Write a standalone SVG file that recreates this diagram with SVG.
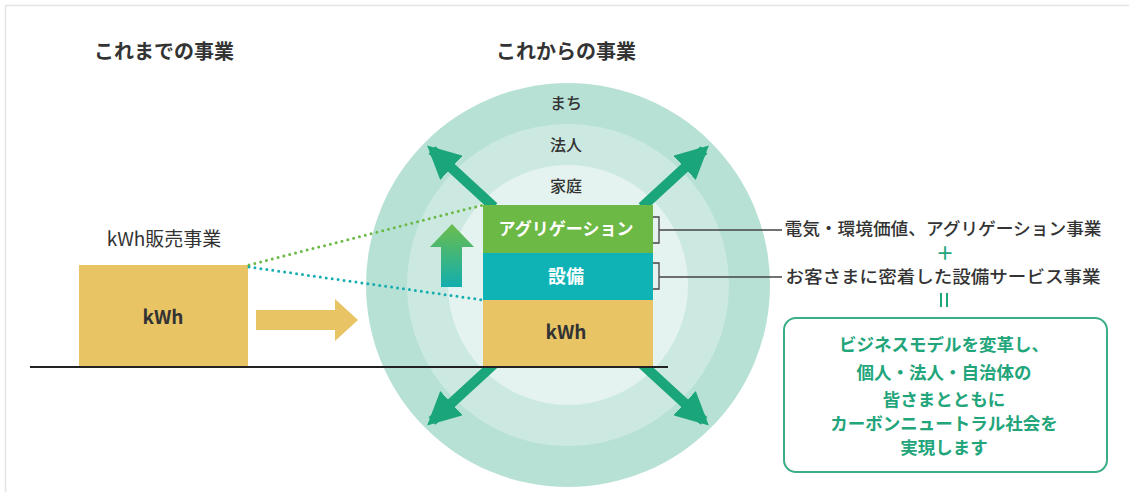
<svg xmlns="http://www.w3.org/2000/svg" width="1129" height="492" viewBox="0 0 1129 492">
<style>
text{font-family:"Noto Sans CJK JP","Noto Sans",sans-serif;fill:#333}
.t{font-size:20px;font-weight:700;text-anchor:middle}
.lbl{font-size:16px;font-weight:500;text-anchor:middle}
.rt{font-size:17.5px;font-weight:500}
.g{fill:#22a57a;font-size:17.5px;font-weight:700;text-anchor:middle}
.w{fill:#fff;font-weight:700;text-anchor:middle}
.dg{fill:none;stroke:#1aa57a;stroke-width:10}
.br{fill:none;stroke:#444;stroke-width:1.3}
</style>
<defs>
<linearGradient id="ug" x1="0" y1="0" x2="0" y2="1">
<stop offset="0" stop-color="#6cbd4c"/>
<stop offset="1" stop-color="#12aeae"/>
</linearGradient>
<marker id="ah" viewBox="0 0 10 10" refX="8" refY="5" markerWidth="3.3" markerHeight="3.3" orient="auto" markerUnits="strokeWidth">
<path d="M0,0 L10,5 L0,10 Z" fill="#1aa57a"/>
</marker>
</defs>
<rect width="1129" height="492" fill="#fff"/>
<line x1="5.5" y1="5.5" x2="1129" y2="5.5" stroke="#e4e4e4" stroke-width="1.5"/>
<line x1="5.5" y1="5.5" x2="5.5" y2="492" stroke="#e4e4e4" stroke-width="1.5"/>

<g id="titles">
<text class="t" x="164" y="59">これまでの事業</text>
<text class="t" x="566" y="59">これからの事業</text>
</g>

<g id="circle">
<circle cx="568" cy="285" r="202" fill="#b8e1d6"/>
<circle cx="568" cy="285" r="161" fill="#cce9e1"/>
<circle cx="568" cy="285" r="120" fill="#e4f3ef"/>
<text class="lbl" x="566" y="109">まち</text>
<text class="lbl" x="566" y="151">法人</text>
<text class="lbl" x="566" y="192">家庭</text>
</g>

<g id="old-box">
<text x="164" y="246" style="font-size:19px;text-anchor:middle">kWh販売事業</text>
<rect x="79" y="265" width="169" height="102" fill="#e8c465"/>
<text x="163" y="324" style="font-size:19px;font-weight:700;text-anchor:middle" fill="#333">kWh</text>
</g>

<g id="connectors">
<path d="M256,310 H335 V299 L358,320 L335,341 V330 H256 Z" fill="#e8c465"/>
<line x1="249" y1="265" x2="483" y2="205" stroke="#6cb945" stroke-width="3" stroke-linecap="round" stroke-dasharray="0 6"/>
<line x1="249" y1="267" x2="483" y2="300" stroke="#14adb0" stroke-width="3" stroke-linecap="round" stroke-dasharray="0 6"/>
<path d="M452,224 L474,247 H462 V287 H441 V247 H430 Z" fill="url(#ug)"/>
<line class="dg" x1="494" y1="207" x2="432" y2="150" marker-end="url(#ah)"/>
<line class="dg" x1="642" y1="207" x2="704" y2="150" marker-end="url(#ah)"/>
<line class="dg" x1="494" y1="364" x2="432" y2="421" marker-end="url(#ah)"/>
<line class="dg" x1="642" y1="364" x2="704" y2="421" marker-end="url(#ah)"/>
<path class="br" d="M653,217 H659 V243 H653 M659,230 H782"/>
<path class="br" d="M653,263 H659 V289 H653 M659,277 H782"/>
</g>

<g id="new-box">
<rect x="483" y="205" width="170" height="48" fill="#6cb945"/>
<rect x="483" y="253" width="170" height="47" fill="#0fb3b6"/>
<rect x="483" y="300" width="170" height="66" fill="#e8c465"/>
<text class="w" x="566" y="235" style="font-size:17px">アグリゲーション</text>
<text class="w" x="566" y="283" style="font-size:18px">設備</text>
<text x="566" y="339" style="font-size:19px;font-weight:700;text-anchor:middle">kWh</text>
</g>

<line x1="30" y1="367" x2="668" y2="367" stroke="#222" stroke-width="2"/>

<g id="right-text">
<text class="rt" x="943" y="235" text-anchor="middle" textLength="317" lengthAdjust="spacingAndGlyphs">電気・環境価値、アグリゲーション事業</text>
<text x="945" y="260" style="font-size:18px;font-weight:700;fill:#22a57a;text-anchor:middle">＋</text>
<text class="rt" x="943" y="283" text-anchor="middle" textLength="315" lengthAdjust="spacingAndGlyphs">お客さまに密着した設備サービス事業</text>
<line x1="941" y1="293" x2="941" y2="307" stroke="#22a57a" stroke-width="2"/>
<line x1="947" y1="293" x2="947" y2="307" stroke="#22a57a" stroke-width="2"/>
</g>

<g id="result-box">
<rect x="784" y="318" width="323" height="154" rx="12" fill="#fff" stroke="#3aae85" stroke-width="2"/>
<text class="g" x="944" y="351">ビジネスモデルを変革し、</text>
<text class="g" x="944" y="379">個人・法人・自治体の</text>
<text class="g" x="944" y="406">皆さまとともに</text>
<text class="g" x="944" y="430">カーボンニュートラル社会を</text>
<text class="g" x="944" y="454">実現します</text>
</g>
</svg>
